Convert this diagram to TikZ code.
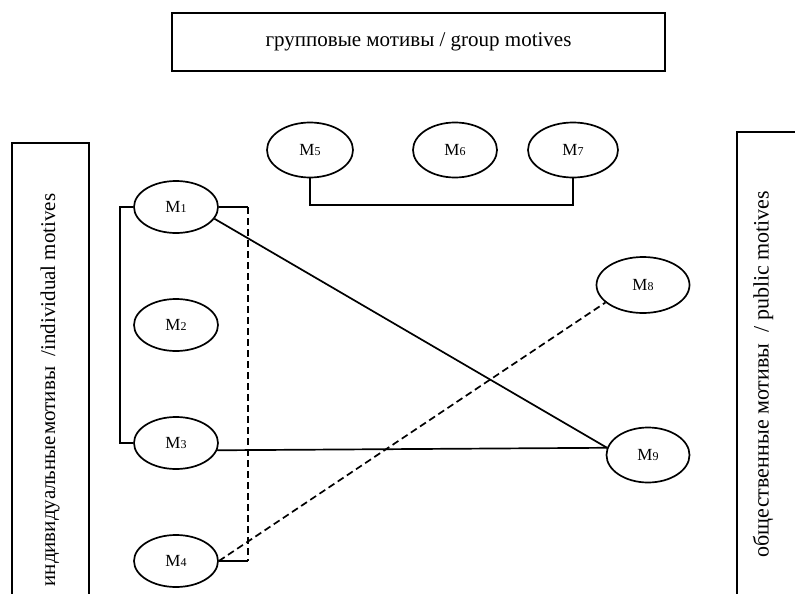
\documentclass[tikz,border=0pt]{standalone}
\usepackage{fontspec}
\setmainfont{Liberation Serif}
\usetikzlibrary{shapes.geometric}
\newcommand{\Mn}[1]{M{\fontsize{12}{14}\selectfont #1}}

\begin{document}
\begin{tikzpicture}[x=1pt, y=-1pt, node distance=118pt,
  motive/.style={draw, ellipse, line width=1.7pt, minimum width=84pt, minimum height=52pt, inner sep=0pt, font=\fontsize{17}{19}\selectfont},
  group/.style={draw, line width=2pt, font=\fontsize{21}{24}\selectfont},
  link/.style={line width=1.7pt},
  weak/.style={line width=1.7pt, dash pattern=on 7pt off 4pt}]

  \useasboundingbox (0,0) rectangle (795,594);

  % Group boxes
  \node[group, minimum width=493pt, minimum height=58pt] (grp) at (418.5,42) {групповые мотивы / group motives};
  \node[group, rotate=90, minimum width=494pt, minimum height=77pt] (ind) at (50,390) {индивидуальные\hspace{1pt}мотивы\ \ /individual motives};
  \draw[line width=2pt] (737,132) rectangle (830,640);
  \node[font=\fontsize{22}{25}\selectfont, rotate=90] (pub) at (763,374) {общественные мотивы \ / public motives};

  % Individual column
  \node[motive] (M1) at (176,207) {\Mn{1}};
  \node[motive, below of=M1] (M2) {\Mn{2}};
  \node[motive, below of=M2] (M3) {\Mn{3}};
  \node[motive, below of=M3] (M4) {\Mn{4}};

  % Group row
  \node[motive, minimum width=86pt, minimum height=55pt] (M5) at (310,150) {\Mn{5}};
  \node[motive, minimum height=55pt] (M6) at (455,150) {\Mn{6}};
  \node[motive, minimum width=90pt, minimum height=55pt] (M7) at (573,150) {\Mn{7}};

  % Public side
  \node[motive, minimum width=93pt, minimum height=56pt] (M8) at (643,285) {\Mn{8}};
  \node[motive, minimum width=83pt, minimum height=55pt] (M9) at (648,455) {\Mn{9}};

  % Brackets
  \coordinate (K1) at (248,207);
  \coordinate (K4) at (248,561);
  \coordinate (K5) at (310,205);
  \draw[link] (M1.west) -- ++(-13,0) |- (M3.west);
  \draw[link] (M1.east) -- (K1);
  \draw[weak] (K1) -- (K4);
  \draw[link] (K4) -- (M4.east);
  \draw[link] (M5.south) -- (K5) -| (M7.south);

  % Links to public motives
  \draw[link] (M1.-17) -- (M9.170);
  \draw[link] (M3.-10) -- (M9.170);
  \draw[weak] (M4.east) -- (M8.205);

\end{tikzpicture}
\end{document}
